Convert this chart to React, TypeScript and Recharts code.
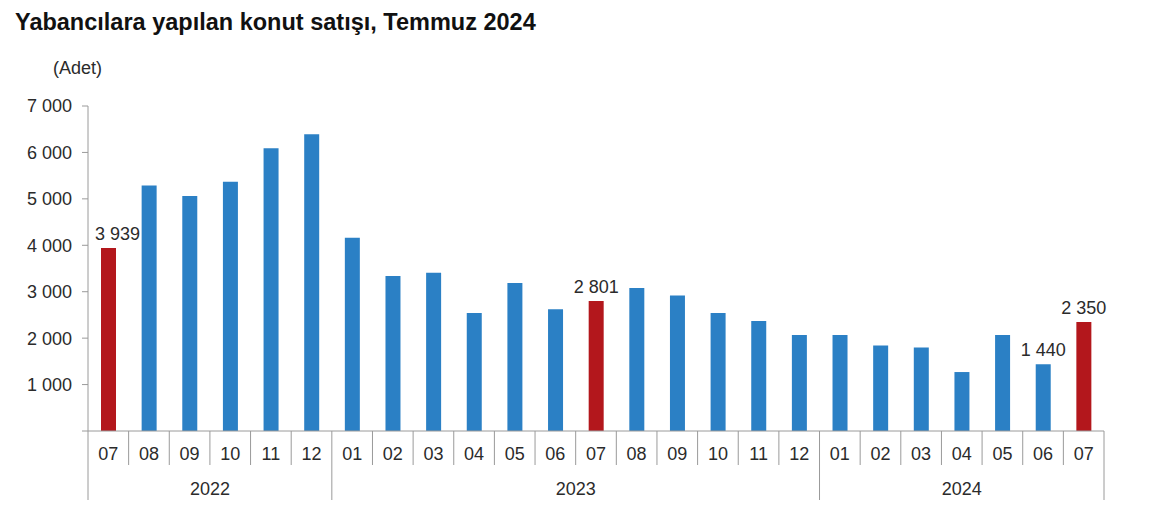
import React from 'react';
import { BarChart, Bar, XAxis, YAxis, Cell, LabelList } from 'recharts';

const months = ['07', '08', '09', '10', '11', '12', '01', '02', '03', '04', '05', '06', '07', '08', '09', '10', '11', '12', '01', '02', '03', '04', '05', '06', '07'];
const years = ['2022', '2022', '2022', '2022', '2022', '2022', '2023', '2023', '2023', '2023', '2023', '2023', '2023', '2023', '2023', '2023', '2023', '2023', '2024', '2024', '2024', '2024', '2024', '2024', '2024'];
const sales = [3939, 5290, 5060, 5370, 6090, 6390, 4160, 3340, 3410, 2540, 3190, 2620, 2801, 3080, 2920, 2540, 2370, 2070, 2070, 1840, 1800, 1270, 2070, 1440, 2350];
const yTicks = [0, 1000, 2000, 3000, 4000, 5000, 6000, 7000];
const labelledKeys = ['2022-07', '2023-07', '2024-06', '2024-07'];
const highlightMonth = '07';

const TITLE = 'Yabancılara yapılan konut satışı, Temmuz 2024';
const UNIT = '(Adet)';

const W = 1158;
const H = 529;
const M = { top: 106, right: 54, bottom: 28, left: 28 };
const Y_AXIS_W = 60;
const X_AXIS_H = 70;
const PLOT_W = W - M.left - M.right - Y_AXIS_W;
const BAND = PLOT_W / months.length;

const BLUE = '#2B80C5';
const RED = '#B3171C';
const AXIS = '#9a9a9a';
const TEXT = '#2b2b2b';
const FONT = '"Liberation Sans", Arial, sans-serif';
const FS = 18;

const fmt = (n: number) => String(n).replace(/\B(?=(\d{3})+(?!\d))/g, ' ');

const data = months.map((m, i) => ({
  key: `${years[i]}-${m}`,
  month: m,
  year: years[i],
  value: sales[i],
}));

const MonthTick = (props: any) => {
  const { x, y, payload } = props;
  const i: number = props.index ?? payload.index;
  const year = years[i];
  const isLast = i === months.length - 1 || years[i + 1] !== year;
  const isFirst = i === 0 || years[i - 1] !== year;
  const right = x + BAND / 2;
  const left = x - BAND / 2;
  let yearLabel = null;
  if (isFirst) {
    const n = years.filter((yy) => yy === year).length;
    const cx = x + ((n - 1) / 2) * BAND;
    yearLabel = (
      <text x={cx} y={y + 64} textAnchor="middle" fill={TEXT} fontSize={FS} fontFamily={FONT}>
        {year}
      </text>
    );
  }
  return (
    <g>
      <text x={x} y={y + 29} textAnchor="middle" fill={TEXT} fontSize={FS} fontFamily={FONT}>
        {payload.value}
      </text>
      <line x1={right} x2={right} y1={y} y2={isLast ? y + 69 : y + 34} stroke={AXIS} strokeWidth={1} />
      {i === 0 && <line x1={left} x2={left} y1={y} y2={y + 69} stroke={AXIS} strokeWidth={1} />}
      {yearLabel}
    </g>
  );
};

const ValueLabel = (props: any) => {
  const { x, y, width, index } = props;
  const d = data[index];
  if (!d || !labelledKeys.includes(d.key)) return null;
  const dx = index === 0 ? 9 : 0;
  return (
    <text x={x + width / 2 + dx} y={y - 8} textAnchor="middle" fill={TEXT} fontSize={FS} fontFamily={FONT}>
      {fmt(d.value)}
    </text>
  );
};

export default function App() {
  return (
    <div style={{ position: 'absolute', left: 0, top: 0, width: W, height: H, background: '#fff', fontFamily: FONT }}>
      <div
        style={{
          position: 'absolute',
          left: 15,
          top: 7,
          fontSize: 23.5,
          fontWeight: 'bold',
          color: '#111',
          whiteSpace: 'nowrap',
          lineHeight: '30px',
        }}
      >
        {TITLE}
      </div>
      <div
        style={{
          position: 'absolute',
          left: 53,
          top: 56,
          fontSize: FS,
          color: TEXT,
          whiteSpace: 'nowrap',
          lineHeight: '24px',
        }}
      >
        {UNIT}
      </div>
      <div style={{ position: 'absolute', left: 0, top: 0 }}>
        <BarChart width={W} height={H} data={data} margin={M}>
          <YAxis
            width={Y_AXIS_W}
            domain={[0, 7000]}
            ticks={yTicks}
            interval={0}
            tickFormatter={(v: number) => (v === 0 ? '' : fmt(v))}
            tickSize={6}
            tickMargin={10}
            axisLine={{ stroke: AXIS }}
            tickLine={{ stroke: AXIS }}
            tick={{ fill: TEXT, fontSize: FS, fontFamily: FONT }}
          />
          <XAxis
            dataKey="month"
            height={X_AXIS_H}
            interval={0}
            tickSize={0}
            tickMargin={0}
            tickLine={false}
            axisLine={{ stroke: AXIS }}
            tick={<MonthTick />}
          />
          <Bar dataKey="value" barSize={15} isAnimationActive={false}>
            {data.map((d) => (
              <Cell key={d.key} fill={d.month === highlightMonth ? RED : BLUE} />
            ))}
            <LabelList dataKey="value" content={<ValueLabel />} />
          </Bar>
        </BarChart>
      </div>
    </div>
  );
}
